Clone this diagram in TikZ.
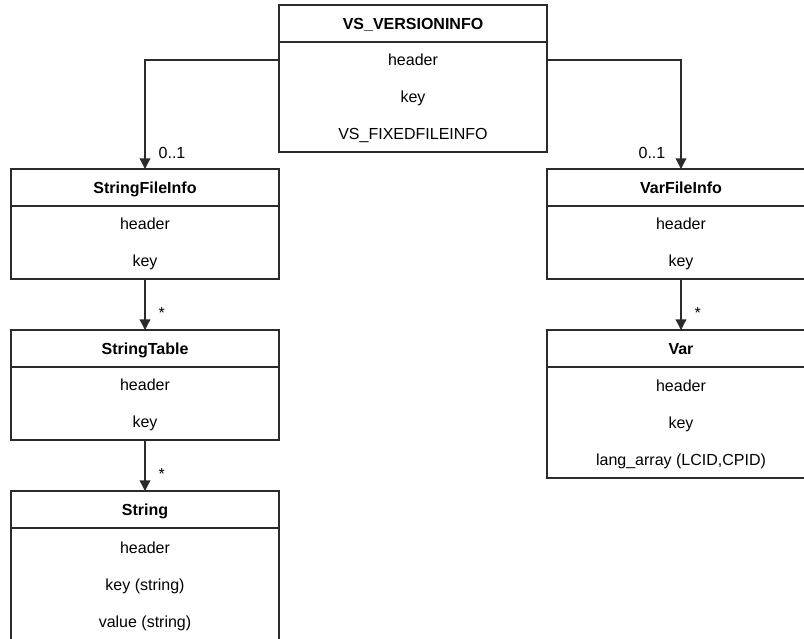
\documentclass[tikz,border=0pt]{standalone}
\usepackage{fontspec}
\setmainfont{Liberation Sans}
\usetikzlibrary{positioning,arrows.meta}
\definecolor{umlline}{HTML}{2B2B2B}

\begin{document}
\begin{tikzpicture}[x=0.75pt, y=-0.75pt, font=\fontsize{12}{14}\selectfont,
  classhead/.style={draw=umlline, line width=1pt, outer sep=0pt, inner sep=0pt, minimum width=201pt, minimum height=27.75pt, text depth=0pt, font=\fontsize{12}{14}\selectfont\bfseries},
  classbody/.style={draw=umlline, line width=1pt, outer sep=0pt, inner sep=0pt, minimum width=201pt, align=center, text depth=0pt, font=\fontsize{12}{27.75}\selectfont},
  assoc/.style={draw=umlline, line width=1pt, -{Triangle[length=8pt, width=8pt]}},
  mult/.style={inner sep=0pt, font=\fontsize{12}{14}\selectfont}]
\useasboundingbox (0,0) rectangle (804,639);
\clip (0,0) rectangle (804,639);
% root
\node[classhead, anchor=north] (vshead) at (413,5) {VS\_VERSIONINFO};
\node[classbody, below=0pt of vshead, minimum height=82.5pt] (vsbody) {header\\key\\VS\_FIXEDFILEINFO};
% left column
\node[classhead, anchor=north] (sfihead) at (145,169) {StringFileInfo};
\node[classbody, below=0pt of sfihead, minimum height=54.75pt] (sfibody) {header\\key};
\node[classhead, below=38.25pt of sfibody] (sthead) {StringTable};
\node[classbody, below=0pt of sthead, minimum height=54.75pt] (stbody) {header\\key};
\node[classhead, below=38.25pt of stbody] (strhead) {String};
\node[classbody, below=0pt of strhead, minimum height=84.75pt] (strbody) {header\\key (string)\\value (string)};
% right column
\node[classhead, anchor=north] (vfihead) at (681,169) {VarFileInfo};
\node[classbody, below=0pt of vfihead, minimum height=54.75pt] (vfibody) {header\\key};
\node[classhead, below=38.25pt of vfibody] (varhead) {Var};
\node[classbody, below=0pt of varhead, minimum height=83.25pt] (varbody) {header\\key\\lang\_array (LCID,CPID)};
% connectors
\draw[assoc] ([yshift=-13.5pt]vsbody.north west) -| node[mult, pos=0.927, right=9.75pt] {0..1} (sfihead.north);
\draw[assoc] ([yshift=-13.5pt]vsbody.north east) -| node[mult, pos=0.927, left=11.25pt] {0..1} (vfihead.north);
\draw[assoc] (sfibody.south) -- node[mult, pos=0.67, right=9.75pt] {*} (sthead.north);
\draw[assoc] (stbody.south) -- node[mult, pos=0.67, right=9.75pt] {*} (strhead.north);
\draw[assoc] (vfibody.south) -- node[mult, pos=0.67, right=9.75pt] {*} (varhead.north);
\end{tikzpicture}
\end{document}
